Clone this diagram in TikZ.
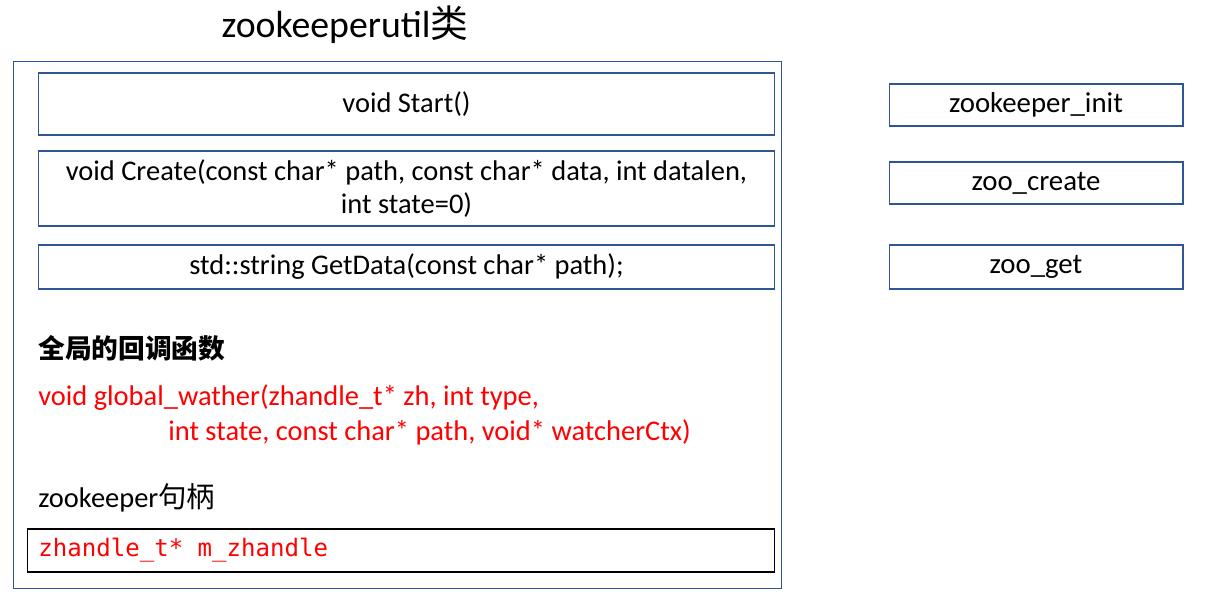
\documentclass[tikz,border=0pt]{standalone}
\usepackage{fontspec}
\setmainfont{Carlito}
\newfontfamily\cjk{Noto Sans CJK SC}
\newfontfamily\codefont{DejaVu Sans Mono}
\definecolor{boxblue}{RGB}{47,85,151}

\begin{document}
\begin{tikzpicture}[x=0.02cm,y=-0.02cm,
    box/.style={draw=boxblue,line width=0.6pt,inner sep=0pt,font=\fontsize{16.2}{18.5}\selectfont},
    apibox/.style={box,minimum width=5.88cm,minimum height=0.84cm,font=\fontsize{16.4}{19}\selectfont},
    label/.style={anchor=west,inner sep=0pt,font=\fontsize{16.2}{18.5}\selectfont}]
  \useasboundingbox (0,0) rectangle (1231,609);
  \node[font=\fontsize{21.5}{25}\selectfont] (title) at (345,25) {zookeeperutil{\cjk 类}};
  \node[box,minimum width=15.38cm,minimum height=10.56cm] (cls) at (397.5,325) {};
  \node[box,minimum width=14.74cm,minimum height=1.24cm] (start) at (406.5,104) {void Start()};
  \node[box,minimum width=14.74cm,minimum height=1.5cm,align=center] (create) at (406.5,188.5)
    {void Create(const char* path, const char* data, int datalen,\\int state=0)};
  \node[box,minimum width=14.74cm,minimum height=0.88cm] (getdata) at (406.5,267)
    {std::string GetData(const char* path);};

  \node[label,font=\cjk\bfseries\fontsize{15.2}{18}\selectfont] (cbnote) at (38,348) {全局的回调函数};
  \node[label,text=red] (watcher) at (38,398) {void global\_wather(zhandle\_t* zh, int type,};
  \node[label,text=red] (watcher2) at (168,432) {int state, const char* path, void* watcherCtx)};
  \node[label] (hnote) at (38,498) {zookeeper{\cjk 句柄}};
  \node[box,draw=black,minimum width=14.96cm,minimum height=0.86cm] (handle) at (401,550.5) {};
  \node[label,text=red,font=\codefont\fontsize{13.7}{16}\selectfont] (handletxt) at (38,550.5) {zhandle\_t* m\_zhandle};

  \node[apibox] (init) at (1036,105) {zookeeper\_init};
  \node[apibox] (zcreate) at (1036,183) {zoo\_create};
  \node[apibox,minimum height=0.88cm] (zget) at (1036,267) {zoo\_get};
\end{tikzpicture}
\end{document}
